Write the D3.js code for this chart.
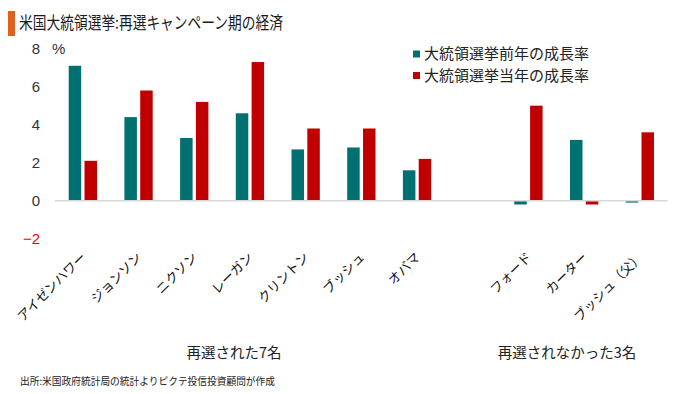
<!DOCTYPE html>
<html>
<head>
<meta charset="utf-8">
<script src="https://cdn.jsdelivr.net/npm/d3@7"></script>
<style>
  body { margin: 0; background: #fff; }
  svg { display: block; font-family: "Noto Sans CJK JP", sans-serif; }
</style>
</head>
<body>
<svg width="680" height="394"></svg>
<script>
const presidents = ['アイゼンハワー', 'ジョンソン', 'ニクソン', 'レーガン', 'クリントン', 'ブッシュ', 'オバマ', '', 'フォード', 'カーター', 'ブッシュ（父）'];
const seriesNames = ['大統領選挙前年の成長率', '大統領選挙当年の成長率'];
const prevYear = [7.1, 4.4, 3.3, 4.6, 2.7, 2.8, 1.6, null, -0.2, 3.2, -0.1];
const electionYear = [2.1, 5.8, 5.2, 7.3, 3.8, 3.8, 2.2, null, 5.0, -0.2, 3.6];
const yTicks = [-2, 0, 2, 4, 6, 8];
const colors = ['#007070', '#c00000'];

const svg = d3.select('svg');

const x0 = d3.scaleBand()
    .domain(d3.range(presidents.length))
    .range([55, 667.7]);

const x1 = d3.scaleBand()
    .domain([0, 1])
    .range([13.7, 42])
    .paddingInner(0.21);

const y = d3.scaleLinear()
    .domain([-2, 8])
    .range([238.7, 48.7]);

// title
svg.append('rect')
    .attr('x', 8).attr('y', 11)
    .attr('width', 7).attr('height', 25)
    .attr('fill', '#e0601e');

svg.append('text')
    .attr('x', 19).attr('y', 29)
    .attr('font-size', 17)
    .attr('fill', '#1a1a1a')
    .attr('textLength', 264)
    .attr('lengthAdjust', 'spacingAndGlyphs')
    .text('米国大統領選挙:再選キャンペーン期の経済');

// y axis labels
svg.append('g')
    .selectAll('text')
    .data(yTicks)
    .join('text')
    .attr('x', 40)
    .attr('y', d => y(d))
    .attr('dy', '0.35em')
    .attr('text-anchor', 'end')
    .attr('font-family', 'Liberation Sans, sans-serif')
    .attr('font-size', 15)
    .attr('fill', d => d < 0 ? '#ff0000' : '#333')
    .text(d => d < 0 ? '−' + Math.abs(d) : d);

svg.append('text')
    .attr('x', 52).attr('y', y(8))
    .attr('dy', '0.35em')
    .attr('font-family', 'Liberation Sans, sans-serif')
    .attr('font-size', 15)
    .attr('fill', '#333')
    .text('%');

// bars
const rows = presidents.map((p, i) => ({ i, vals: [prevYear[i], electionYear[i]] }));

const grp = svg.append('g')
    .selectAll('g')
    .data(rows)
    .join('g')
    .attr('transform', d => 'translate(' + x0(d.i) + ',0)');

grp.selectAll('rect')
    .data(d => d.vals.map((v, k) => ({ v, k })).filter(e => e.v !== null))
    .join('rect')
    .attr('x', e => x1(e.k))
    .attr('width', x1.bandwidth())
    .attr('y', e => y(Math.max(0, e.v)))
    .attr('height', e => Math.abs(y(e.v) - y(0)))
    .attr('fill', e => colors[e.k]);

// zero line
svg.append('line')
    .attr('x1', x0.range()[0]).attr('x2', x0.range()[1])
    .attr('y1', y(0)).attr('y2', y(0))
    .attr('stroke', '#d9d9d9')
    .attr('stroke-width', 1.5);

// category labels
svg.append('g')
    .selectAll('text')
    .data(presidents.map((p, i) => ({ p, i })).filter(d => d.p !== ''))
    .join('text')
    .attr('transform', d => 'translate(' + (x0(d.i) + x0.bandwidth() / 2 + 4) + ',258)rotate(-45)')
    .attr('text-anchor', 'end')
    .attr('font-size', 13)
    .attr('fill', '#111')
    .text(d => d.p);

// group labels
svg.append('text')
    .attr('x', 234).attr('y', 358)
    .attr('text-anchor', 'middle')
    .attr('font-size', 14.5)
    .attr('fill', '#222')
    .text('再選された7名');

svg.append('text')
    .attr('x', 567).attr('y', 358)
    .attr('text-anchor', 'middle')
    .attr('font-size', 14.5)
    .attr('fill', '#222')
    .text('再選されなかった3名');

// legend
const legend = svg.append('g')
    .selectAll('g')
    .data(seriesNames)
    .join('g')
    .attr('transform', (d, i) => 'translate(413,' + (54 + i * 21.5) + ')');

legend.append('rect')
    .attr('x', 0).attr('y', -3.5)
    .attr('width', 7).attr('height', 7)
    .attr('fill', (d, i) => colors[i]);

legend.append('text')
    .attr('x', 11)
    .attr('dy', '0.35em')
    .attr('font-size', 15)
    .attr('fill', '#222')
    .text(d => d);

// source
svg.append('text')
    .attr('x', 20).attr('y', 385)
    .attr('font-size', 10)
    .attr('fill', '#222')
    .attr('textLength', 255)
    .attr('lengthAdjust', 'spacingAndGlyphs')
    .text('出所:米国政府統計局の統計よりピクテ投信投資顧問が作成');
</script>
</body>
</html>
